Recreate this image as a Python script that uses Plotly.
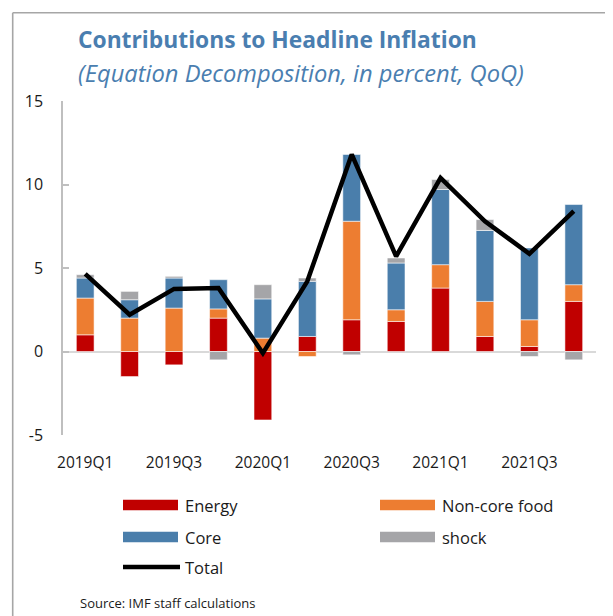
import plotly.graph_objects as go

quarters = ["2019Q1", "2019Q2", "2019Q3", "2019Q4", "2020Q1", "2020Q2",
            "2020Q3", "2020Q4", "2021Q1", "2021Q2", "2021Q3", "2021Q4"]
tick_labels = ["2019Q1", "2019Q3", "2020Q1", "2020Q3", "2021Q1", "2021Q3"]
y_ticks = [-5, 0, 5, 10, 15]
y_tick_labels = ["-5", "0", "5", "10", "15"]

energy = [1.0, -1.5, -0.8, 2.0, -4.1, 0.9, 1.9, 1.8, 3.8, 0.9, 0.3, 3.0]
noncore_food = [2.2, 2.0, 2.6, 0.55, 0.8, -0.3, 5.9, 0.7, 1.4, 2.1, 1.6, 1.0]
core = [1.2, 1.1, 1.8, 1.75, 2.35, 3.3, 4.0, 2.8, 4.5, 4.25, 4.3, 4.8]
shock = [0.2, 0.5, 0.1, -0.5, 0.85, 0.2, -0.2, 0.3, 0.6, 0.65, -0.3, -0.5]
total = [4.65, 2.2, 3.75, 3.8, -0.1, 4.2, 11.8, 5.7, 10.4, 7.8, 5.85, 8.4]

series_names = ["Energy", "Non-core food", "Core", "shock"]
series_colors = ["#C00000", "#ED7D31", "#4A7EAB", "#A5A5A8"]
series_values = [energy, noncore_food, core, shock]

# page body has an 8px margin; figure is placed at (8, 8)
OFF = 8
W, H = 613 - OFF, 616 - OFF
# plot area in page pixels: x 63..596, y 101..435
PL, PR, PT, PB = 63, 596, 101, 435
ML, MR, MT, MB = PL - OFF, W - (PR - OFF), PT - OFF, H - (PB - OFF)
PW, PH = PR - PL, PB - PT


def px(x):
    return (x - PL) / PW


def py(y):
    return (PB - y) / PH


FONT = "Open Sans"
TITLE_BLUE = "#4A7EB0"

fig = go.Figure()
for name, color, vals in zip(series_names, series_colors, series_values):
    fig.add_trace(go.Bar(
        x=quarters, y=vals, name=name,
        marker=dict(color=color, line=dict(color="rgba(255,255,255,0.55)", width=1)),
        showlegend=False,
    ))
fig.add_trace(go.Scatter(
    x=quarters, y=total, name="Total", mode="lines",
    line=dict(color="black", width=4.5), showlegend=False,
))

shapes = []
annotations = []

# frame border (top and left)
shapes.append(dict(type="line", xref="paper", yref="paper",
                   x0=px(12.7), x1=px(620), y0=py(12.7), y1=py(12.7),
                   line=dict(color="#A6A6A6", width=1.6)))
shapes.append(dict(type="line", xref="paper", yref="paper",
                   x0=px(12.7), x1=px(12.7), y0=py(12.7), y1=py(625),
                   line=dict(color="#A6A6A6", width=1.6)))

# legend (custom, wide swatches)
legend_items = [
    ("Energy", series_colors[0], 123, 505, "bar"),
    ("Non-core food", series_colors[1], 380, 505, "bar"),
    ("Core", series_colors[2], 123, 537, "bar"),
    ("shock", series_colors[3], 380, 537, "bar"),
    ("Total", "black", 123, 567, "line"),
]
for label, color, x0, yc, kind in legend_items:
    if kind == "bar":
        shapes.append(dict(type="rect", xref="paper", yref="paper",
                           x0=px(x0), x1=px(x0 + 55), y0=py(yc - 5.3), y1=py(yc + 5.3),
                           fillcolor=color, line=dict(width=0)))
    else:
        shapes.append(dict(type="line", xref="paper", yref="paper",
                           x0=px(x0), x1=px(x0 + 57), y0=py(yc), y1=py(yc),
                           line=dict(color=color, width=4.5)))
    annotations.append(dict(text=label, xref="paper", yref="paper",
                            x=px(x0 + 60), y=py(yc), xanchor="left", yanchor="middle",
                            showarrow=False, font=dict(family=FONT, size=16.5, color="#1a1a1a")))

annotations.append(dict(text="<b>Contributions to Headline Inflation</b>",
                        xref="paper", yref="paper", x=px(76), y=py(40),
                        xanchor="left", yanchor="middle", showarrow=False,
                        font=dict(family=FONT, size=22.8, color=TITLE_BLUE)))
annotations.append(dict(text="<i>(Equation Decomposition, in percent, QoQ)</i>",
                        xref="paper", yref="paper", x=px(76), y=py(73),
                        xanchor="left", yanchor="middle", showarrow=False,
                        font=dict(family=FONT, size=23.7, color=TITLE_BLUE)))
annotations.append(dict(text="Source: IMF staff calculations",
                        xref="paper", yref="paper", x=px(78), y=py(603),
                        xanchor="left", yanchor="middle", showarrow=False,
                        font=dict(family=FONT, size=13, color="#1a1a1a")))

fig.update_layout(
    width=W, height=H,
    margin=dict(l=ML, r=MR, t=MT, b=MB, pad=0),
    barmode="relative", bargap=0.6,
    plot_bgcolor="white", paper_bgcolor="white",
    font=dict(family=FONT, size=16, color="#1a1a1a"),
    shapes=shapes, annotations=annotations,
    showlegend=False,
)
fig.update_xaxes(
    type="category", tickmode="array", tickvals=tick_labels, ticktext=tick_labels,
    showline=False, showgrid=False, ticks="", ticklabelstandoff=16,
    tickfont=dict(family=FONT, size=15.5, color="#1a1a1a"),
)
fig.update_yaxes(
    range=[-5, 15], tickmode="array", tickvals=y_ticks, ticktext=y_tick_labels,
    showgrid=False,
    showline=True, linecolor="#BFBFBF", linewidth=1.5,
    ticks="inside", ticklen=6, tickcolor="#BFBFBF", tickwidth=1.5,
    zeroline=True, zerolinecolor="#D9D9D9", zerolinewidth=2,
    ticklabelstandoff=15,
    tickfont=dict(family=FONT, size=16, color="#1a1a1a"),
)

fig.write_html("out.html")
